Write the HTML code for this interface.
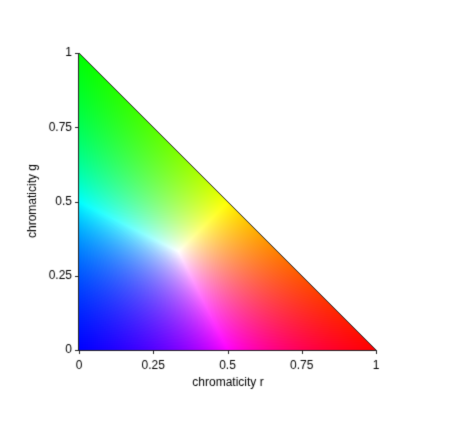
<!DOCTYPE html>
<html><head><meta charset="utf-8"><style>
body{margin:0;background:#fff;width:450px;height:424px;overflow:hidden;font-family:"Liberation Sans",sans-serif}
#c{position:absolute;left:0;top:0}
</style></head><body>
<canvas id="c" width="450" height="424"></canvas>
<script>
const xTicks=[0,0.25,0.5,0.75,1];
const xTickLabels=["0","0.25","0.5","0.75","1"];
const yTicks=[0,0.25,0.5,0.75,1];
const yTickLabels=["0","0.25","0.5","0.75","1"];
const X0=79,X1=376,Y0=350,Y1=53;
const sx=v=>X0+v*(X1-X0), sy=v=>Y0-v*(Y0-Y1);
const c=document.getElementById('c'),ctx=c.getContext('2d');
ctx.fillStyle='#fff';ctx.fillRect(0,0,450,424);
const img=ctx.getImageData(0,0,450,424);
for(let py=Y1;py<=Y0;py++)for(let px=X0;px<=X1;px++){
  const r=(px-X0)/(X1-X0), g=(Y0-py)/(Y0-Y1), b=1-r-g;
  if(b<-0.002)continue;
  const m=Math.max(r,g,Math.max(b,0))||1;
  const i=(py*450+px)*4;
  img.data[i]=255*r/m;img.data[i+1]=255*g/m;img.data[i+2]=255*Math.max(b,0)/m;img.data[i+3]=255;
}
ctx.putImageData(img,0,0);
ctx.strokeStyle='#222';ctx.lineWidth=1;
ctx.beginPath();ctx.moveTo(sx(0),sy(1));ctx.lineTo(sx(1),sy(0));ctx.stroke();
ctx.beginPath();ctx.moveTo(X0-0.5,Y1);ctx.lineTo(X0-0.5,Y0+0.5);ctx.lineTo(X1,Y0+0.5);ctx.stroke();
ctx.fillStyle='#000';ctx.font='12px "Liberation Sans",sans-serif';
ctx.textAlign='center';ctx.textBaseline='top';
xTicks.forEach((t,i)=>{const x=Math.round(sx(t))+0.5;ctx.beginPath();ctx.moveTo(x,Y0);ctx.lineTo(x,Y0+4);ctx.stroke();ctx.fillText(xTickLabels[i],sx(t),360);});
ctx.textAlign='right';ctx.textBaseline='middle';
yTicks.forEach((t,i)=>{const y=Math.round(sy(t))+0.5;ctx.beginPath();ctx.moveTo(X0-4,y);ctx.lineTo(X0,y);ctx.stroke();ctx.fillText(yTickLabels[i],72,sy(t));});
ctx.textAlign='center';ctx.textBaseline='top';ctx.fillText('chromaticity r',228,377);
ctx.save();ctx.translate(33,201);ctx.rotate(-Math.PI/2);ctx.textBaseline='middle';ctx.fillText('chromaticity g',0,0);ctx.restore();
</script>
<div style="display:none">chromaticity r</div>
<div style="display:none">chromaticity g</div>
</body></html>
